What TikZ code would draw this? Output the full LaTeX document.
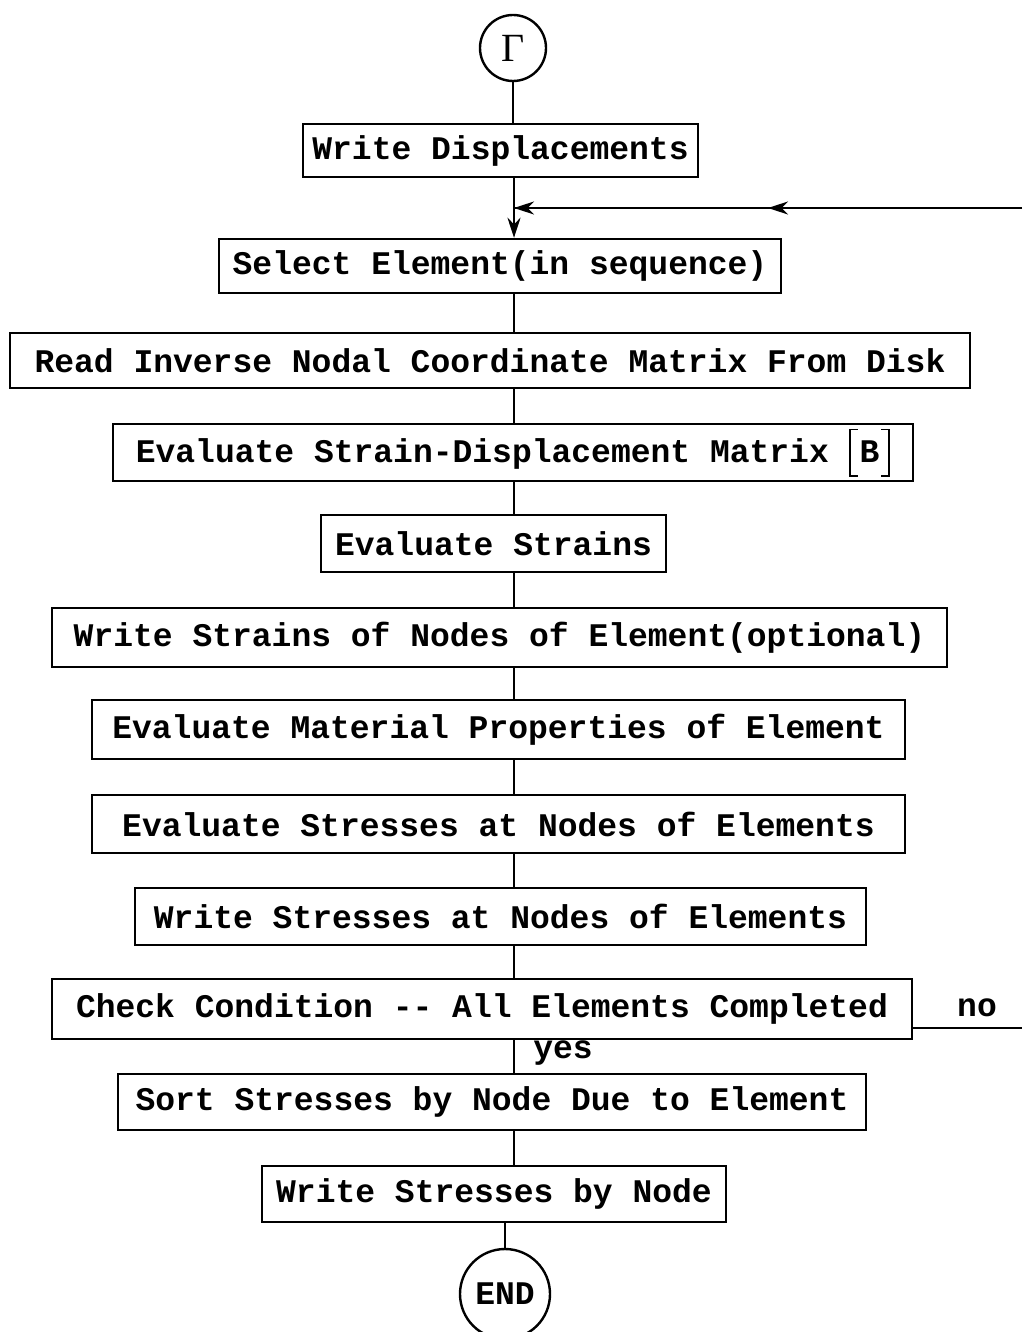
\documentclass[tikz,border=0pt]{standalone}
\usepackage{fontspec}
\setmonofont{Liberation Mono}
\newfontfamily\serifg{Liberation Serif}
\usetikzlibrary{arrows.meta,decorations.markings,calc}
\newcommand\lbrk{\rule[-14pt]{1.8pt}{48pt}\rlap{\rule[-14pt]{7pt}{1.8pt}}\rule[32.2pt]{7pt}{1.8pt}\kern2pt}
\newcommand\rbrk{\kern2pt\rule[32.2pt]{7pt}{1.8pt}\llap{\rule[-14pt]{7pt}{1.8pt}}\rule[-14pt]{1.8pt}{48pt}}
\begin{document}
\begin{tikzpicture}[x=1pt,y=1pt,
  every node/.style={font=\fontsize{33}{38}\selectfont\ttfamily\bfseries},
  box/.style={draw,line width=2.4pt,inner sep=0pt,align=center},
  term/.style={draw,circle,line width=2.4pt,inner sep=0pt},
  conn/.style={line width=2.4pt},
  tip/.tip={Stealth[length=20pt,width=13pt]},
  arr/.style={conn,-tip},
  midarr/.style={conn,postaction={decorate},decoration={markings,
     mark=at position 0.5 with {\arrow{tip}}}},
  lbl/.style={inner sep=0pt}
]
\useasboundingbox (0,0) rectangle (1022,-1332);
\coordinate (spine) at (514,0);
\node[term,minimum size=66pt] (g) at (513,-48) {\serifg\mdseries\fontsize{40}{40}\selectfont Γ};
\node[box,minimum width=395pt,minimum height=53pt] (wd) at (500.5,-150.5) {Write Displacements};
\node[box,minimum width=562pt,minimum height=54pt] (sel) at (500,-266) {Select Element(in sequence)};
\node[box,minimum width=960pt,minimum height=55pt] (read) at (490,-360.5) {Read Inverse Nodal Coordinate Matrix From Disk};
\node[box,minimum width=800pt,minimum height=57pt] (evb) at (513,-452.5) {Evaluate Strain-Displacement Matrix \lbrk B\rbrk};
\node[box,minimum width=345pt,minimum height=57pt] (es) at (493.5,-543.5) {Evaluate Strains};
\node[box,minimum width=895pt,minimum height=59pt] (ws) at (499.5,-637.5) {Write Strains of Nodes of Element(optional)};
\node[box,minimum width=813pt,minimum height=59pt] (emp) at (498.5,-729.5) {Evaluate Material Properties of Element};
\node[box,minimum width=813pt,minimum height=58pt] (esn) at (498.5,-824) {Evaluate Stresses at Nodes of Elements};
\node[box,minimum width=731pt,minimum height=57pt] (wsn) at (500.5,-916.5) {Write Stresses at Nodes of Elements};
\node[box,minimum width=860pt,minimum height=60pt] (cc) at (482,-1009) {Check Condition -- All Elements Completed};
\node[box,minimum width=748pt,minimum height=56pt] (sort) at (492,-1102) {Sort Stresses by Node Due to Element};
\node[box,minimum width=464pt,minimum height=56pt] (wsbn) at (494,-1194) {Write Stresses by Node};
\node[term,minimum size=90pt] (end) at (505,-1294) {END};
\node[lbl] (no) at (977,-1008) {no};
\node[lbl] (yes) at (563,-1053) {yes};
\coordinate (noend) at (1022,-1028);
\coordinate (retstart) at (1022,-208);
\coordinate (join) at (spine |- retstart);
% connectors
\draw[conn] (g.south) -- (g.south |- wd.north);
\draw[arr] (wd.south -| spine) -- (sel.north -| spine);
\draw[midarr] (retstart) -- (join);
\draw[conn,-tip] ($(retstart)!0.97!(join)$) -- (join);
\draw[conn] (sel.south -| spine) -- (read.north -| spine);
\draw[conn] (read.south -| spine) -- (evb.north -| spine);
\draw[conn] (evb.south -| spine) -- (es.north -| spine);
\draw[conn] (es.south -| spine) -- (ws.north -| spine);
\draw[conn] (ws.south -| spine) -- (emp.north -| spine);
\draw[conn] (emp.south -| spine) -- (esn.north -| spine);
\draw[conn] (esn.south -| spine) -- (wsn.north -| spine);
\draw[conn] (wsn.south -| spine) -- (cc.north -| spine);
\draw[conn] (cc.south -| spine) -- (sort.north -| spine);
\draw[conn] (sort.south -| spine) -- (wsbn.north -| spine);
\draw[conn] (wsbn.south -| end.north) -- (end.north);
\draw[conn] (cc.east |- noend) -- (noend);
\end{tikzpicture}
\end{document}
